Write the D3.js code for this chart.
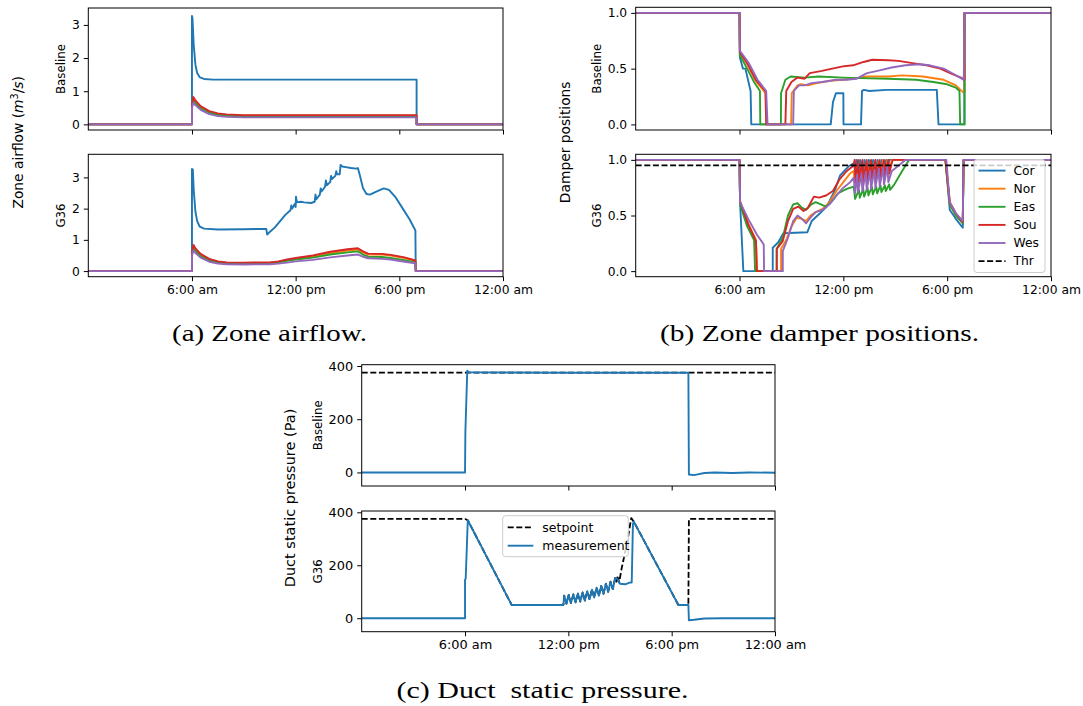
<!DOCTYPE html>
<html>
<head>
<meta charset="utf-8">
<script src="https://cdn.jsdelivr.net/npm/d3@7"></script>
<style>
  body { margin: 0; background: #fff; }
</style>
</head>
<body>
<div id="fig"></div>
<script>
// ---- data (hours of day, value) ----
var hourTicks = [6, 12, 18, 24];
var hourLabels = ["6:00 am", "12:00 pm", "6:00 pm", "12:00 am"];
var zoneNames = ["Cor", "Nor", "Eas", "Sou", "Wes"];
var zoneColors = ["#1f77b4", "#ff7f0e", "#2ca02c", "#d62728", "#9467bd"];

// (a) zone airflow, baseline
var flowBaseCor = [[0,0],[6.0,0],[6.0,3.27],[6.03,3.2],[6.1,2.4],[6.2,1.8],[6.3,1.55],[6.45,1.42],[6.7,1.37],[7.2,1.35],[19.0,1.35],[19.0,0],[24,0]];
var flowBaseNor = [[0,0],[6.0,0],[6.0,0.55],[6.08,0.78],[6.2,0.68],[6.5,0.52],[7,0.38],[7.5,0.31],[8,0.28],[9,0.265],[19.0,0.265],[19.0,0],[24,0]];
var flowBaseEas = [[0,0],[6.0,0],[6.0,0.52],[6.08,0.72],[6.2,0.63],[6.5,0.48],[7,0.35],[7.5,0.29],[8,0.26],[9,0.245],[19.0,0.245],[19.0,0],[24,0]];
var flowBaseSou = [[0,0],[6.0,0],[6.0,0.57],[6.08,0.83],[6.2,0.72],[6.5,0.55],[7,0.4],[7.5,0.33],[8,0.3],[9,0.28],[19.0,0.28],[19.0,0],[24,0]];
var flowBaseWes = [[0,0],[6.0,0],[6.0,0.5],[6.08,0.65],[6.2,0.58],[6.5,0.44],[7,0.31],[7.5,0.25],[8,0.225],[9,0.21],[19.0,0.21],[19.0,0],[24,0]];

// (a) zone airflow, G36
var flowG36Cor = [[0,0],[6.0,0],[6.0,3.27],[6.05,3.25],[6.1,2.6],[6.2,1.9],[6.3,1.6],[6.45,1.42],[6.7,1.36],[7.5,1.33],[9.0,1.34],[10.0,1.35],[10.3,1.35],[10.35,1.17],[10.5,1.25],[10.8,1.4],[11.1,1.6],[11.4,1.8],[11.7,1.95],[11.75,2.1],[11.8,2.0],[11.9,2.1],[11.95,2.15],[12.0,2.05],[12.02,2.38],[12.07,2.2],[12.3,2.22],[12.5,2.2],[12.9,2.18],[13.1,2.22],[13.15,2.45],[13.2,2.3],[13.4,2.45],[13.45,2.65],[13.5,2.55],[13.7,2.7],[13.75,2.9],[13.8,2.75],[14.0,2.85],[14.05,3.05],[14.1,2.95],[14.3,3.05],[14.35,3.2],[14.4,3.1],[14.55,3.1],[14.6,3.4],[14.7,3.35],[14.9,3.33],[15.2,3.3],[15.5,3.28],[15.6,3.3],[15.7,3.1],[15.9,2.65],[16.1,2.47],[16.3,2.45],[16.7,2.55],[17.1,2.65],[17.4,2.6],[17.8,2.35],[18.2,2.0],[18.6,1.65],[18.93,1.3],[18.95,0],[24,0]];
var flowG36Nor = [[0,0],[6.0,0],[6.0,0.55],[6.08,0.8],[6.2,0.7],[6.5,0.52],[7,0.37],[7.5,0.3],[8,0.27],[9,0.26],[10.5,0.27],[11,0.3],[11.5,0.35],[12,0.4],[12.5,0.44],[13,0.47],[13.5,0.52],[14,0.58],[14.5,0.62],[15,0.66],[15.6,0.69],[15.9,0.6],[16.2,0.53],[17.0,0.53],[17.5,0.5],[18.3,0.42],[18.93,0.33],[18.95,0],[24,0]];
var flowG36Eas = [[0,0],[6.0,0],[6.0,0.52],[6.08,0.73],[6.2,0.64],[6.5,0.48],[7,0.34],[7.5,0.28],[8,0.25],[9,0.24],[10.5,0.25],[11,0.28],[11.5,0.33],[12,0.37],[13,0.43],[14,0.53],[15,0.6],[15.6,0.63],[15.9,0.53],[16.2,0.46],[17,0.45],[17.5,0.42],[18.3,0.35],[18.93,0.28],[18.95,0],[24,0]];
var flowG36Sou = [[0,0],[6.0,0],[6.0,0.57],[6.08,0.84],[6.2,0.73],[6.5,0.55],[7,0.39],[7.5,0.31],[8,0.28],[9,0.27],[10.5,0.28],[11,0.31],[11.5,0.37],[12,0.42],[12.5,0.46],[13,0.5],[14,0.62],[15,0.7],[15.6,0.73],[15.9,0.63],[16.2,0.56],[17,0.55],[17.5,0.52],[18.3,0.44],[18.93,0.34],[18.95,0],[24,0]];
var flowG36Wes = [[0,0],[6.0,0],[6.0,0.5],[6.08,0.66],[6.2,0.58],[6.5,0.43],[7,0.3],[7.5,0.24],[8,0.22],[9,0.21],[10.5,0.22],[11,0.24],[11.5,0.27],[12,0.31],[13,0.36],[14,0.44],[15,0.5],[15.6,0.53],[15.9,0.46],[16.2,0.41],[17,0.39],[17.5,0.37],[18.3,0.3],[18.93,0.25],[18.95,0],[24,0]];

// (b) damper positions, baseline
var dampBaseCor = [[0,1],[6.0,1],[6.02,0.6],[6.2,0.5],[6.34,0.5],[6.64,0.3],[6.68,0],[11.27,0],[11.4,0.2],[11.57,0.28],[12.0,0.28],[12.01,0],[13.02,0],[13.08,0.3],[13.2,0.31],[13.5,0.3],[14.5,0.31],[17.4,0.31],[17.5,0],[19.0,0],[19.0,1],[24,1]];
var dampBaseNor = [[0,1],[6.0,1],[6.02,0.64],[6.44,0.54],[6.94,0.39],[7.5,0.28],[7.54,0],[8.98,0],[9.02,0.28],[9.35,0.35],[9.55,0.36],[9.96,0.35],[10.46,0.37],[11.27,0.39],[11.97,0.4],[12.57,0.41],[13.37,0.43],[14.59,0.43],[15.39,0.44],[16.6,0.43],[17.8,0.4],[18.5,0.35],[18.91,0.29],[19.0,0.29],[19.0,1],[24,1]];
var dampBaseEas = [[0,1],[6.0,1],[6.02,0.62],[6.44,0.5],[6.84,0.38],[7.18,0.3],[7.2,0],[8.39,0],[8.4,0.28],[8.65,0.4],[8.95,0.43],[9.76,0.42],[10.57,0.43],[11.97,0.42],[12.98,0.415],[14.59,0.41],[16.2,0.4],[17.2,0.38],[18.0,0.36],[18.5,0.33],[18.71,0.3],[18.75,0],[19.0,0],[19.0,1],[24,1]];
var dampBaseSou = [[0,1],[6.0,1],[6.02,0.65],[6.44,0.55],[6.94,0.4],[7.5,0.3],[7.55,0],[8.65,0],[8.7,0.3],[9.0,0.38],[9.35,0.42],[9.76,0.41],[10.06,0.46],[10.76,0.48],[11.36,0.5],[11.97,0.52],[12.57,0.53],[13.17,0.56],[13.67,0.58],[14.59,0.575],[15.19,0.57],[15.99,0.55],[16.8,0.53],[17.6,0.5],[18.3,0.45],[18.8,0.42],[19.0,0.4],[19.0,1],[24,1]];
var dampBaseWes = [[0,1],[6.0,1],[6.02,0.66],[6.54,0.55],[7.04,0.4],[7.54,0.3],[7.62,0],[9.1,0],[9.14,0.3],[9.44,0.35],[9.76,0.35],[10.16,0.37],[10.76,0.38],[11.57,0.4],[12.17,0.4],[12.77,0.41],[13.37,0.46],[13.97,0.48],[14.79,0.51],[15.6,0.53],[16.4,0.54],[17.0,0.53],[17.8,0.5],[18.4,0.45],[18.96,0.4],[19.0,1],[24,1]];

// (b) damper positions, G36
var dampG36Cor = [[0,1],[6.0,1],[6.03,0.62],[6.22,0],[7.92,0],[7.92,0.21],[8.24,0.26],[8.53,0.34],[9.92,0.35],[10.17,0.45],[10.65,0.52],[11.04,0.58],[11.52,0.73],[11.81,0.86],[12.29,0.94],[12.6,0.97],[12.68,0.9],[12.75,1.0],[12.9,0.88],[12.97,1.0],[13.15,0.88],[13.22,1.0],[13.4,0.89],[13.47,1.0],[13.65,0.9],[13.72,1.0],[13.9,0.9],[13.97,1.0],[14.15,0.91],[14.22,1.0],[14.4,0.92],[14.47,1.0],[14.6,0.95],[14.65,1.0],[17.9,1.0],[18.15,0.55],[18.5,0.47],[18.9,0.39],[18.95,1.0],[24,1.0]];
var dampG36Nor = [[0,1],[6.0,1],[6.03,0.62],[6.5,0.43],[6.95,0.28],[7.02,0],[8.4,0],[8.4,0.2],[8.7,0.28],[9.0,0.4],[9.3,0.48],[9.6,0.47],[9.85,0.45],[10.1,0.5],[10.4,0.53],[10.8,0.56],[11.2,0.62],[11.6,0.72],[12.0,0.8],[12.4,0.88],[12.6,0.9],[12.68,0.75],[12.8,0.95],[12.85,0.76],[13.05,0.96],[13.1,0.77],[13.3,0.97],[13.35,0.78],[13.55,0.98],[13.6,0.79],[13.8,0.98],[13.85,0.8],[14.05,0.99],[14.1,0.81],[14.3,1.0],[14.35,0.82],[14.55,1.0],[14.6,0.85],[14.8,1.0],[17.9,1.0],[18.15,0.6],[18.5,0.5],[18.9,0.44],[18.95,1.0],[24,1.0]];
var dampG36Eas = [[0,1],[6.0,1],[6.03,0.6],[6.42,0.41],[6.84,0.28],[6.9,0],[8.15,0],[8.15,0.2],[8.5,0.3],[8.8,0.5],[9.1,0.6],[9.35,0.61],[9.6,0.57],[9.85,0.55],[10.15,0.6],[10.4,0.62],[10.7,0.6],[11.0,0.58],[11.3,0.62],[11.7,0.7],[12.2,0.74],[12.6,0.76],[12.68,0.65],[12.9,0.73],[12.95,0.66],[13.15,0.74],[13.2,0.67],[13.4,0.75],[13.45,0.68],[13.65,0.76],[13.7,0.69],[13.9,0.76],[13.95,0.7],[14.15,0.77],[14.2,0.71],[14.4,0.77],[14.45,0.72],[14.65,0.78],[14.7,0.73],[14.95,0.78],[15.4,0.9],[15.8,1.0],[17.9,1.0],[18.15,0.6],[18.5,0.5],[18.9,0.43],[18.95,1.0],[24,1.0]];
var dampG36Sou = [[0,1],[6.0,1],[6.03,0.63],[6.5,0.42],[6.95,0.27],[7.0,0],[8.15,0],[8.15,0.2],[8.5,0.27],[8.8,0.45],[9.1,0.56],[9.4,0.58],[9.7,0.54],[9.95,0.57],[10.3,0.67],[10.6,0.66],[11.0,0.68],[11.4,0.72],[11.8,0.83],[12.2,0.9],[12.6,0.95],[12.65,1.0],[12.7,0.8],[12.85,1.0],[12.9,0.8],[13.1,1.0],[13.15,0.81],[13.35,1.0],[13.4,0.82],[13.6,1.0],[13.65,0.83],[13.85,1.0],[13.9,0.84],[14.1,1.0],[14.15,0.85],[14.35,1.0],[14.4,0.86],[14.6,1.0],[14.65,0.88],[14.85,1.0],[17.9,1.0],[18.15,0.62],[18.5,0.52],[18.9,0.44],[18.95,1.0],[24,1.0]];
var dampG36Wes = [[0,1],[6.0,1],[6.03,0.62],[6.5,0.47],[7.0,0.33],[7.4,0.24],[7.42,0],[8.5,0],[8.5,0.18],[8.8,0.3],[9.1,0.45],[9.35,0.5],[9.6,0.47],[9.85,0.43],[10.1,0.48],[10.4,0.53],[10.8,0.55],[11.2,0.6],[11.6,0.68],[12.0,0.75],[12.4,0.8],[12.6,0.84],[12.68,0.7],[12.8,0.87],[12.85,0.71],[13.05,0.88],[13.1,0.72],[13.3,0.89],[13.35,0.73],[13.55,0.9],[13.6,0.74],[13.8,0.91],[13.85,0.75],[14.05,0.92],[14.1,0.76],[14.3,0.93],[14.35,0.78],[14.55,0.94],[14.6,0.8],[14.8,0.9],[15.2,0.95],[15.6,1.0],[17.95,1.0],[18.15,0.62],[18.5,0.52],[18.9,0.45],[18.95,1.0],[24,1.0]];
var dampThr = [[0,0.95],[24,0.95]];

// (c) duct static pressure (Pa)
var presBaseSet = [[0,375],[24,375]];
var presBaseMeas = [[0,0],[6.0,0],[6.02,150],[6.13,382],[6.25,376],[12,375],[18.97,375],[19.0,-8],[19.3,-10],[19.9,-2],[20.5,0],[21.5,-2],[22.5,0],[24,-1]];
var presG36Meas = [[0,0],[6.0,0],[6.0,145],[6.04,150],[6.16,370],[8.71,50],[11.71,50],[11.76,85],[11.89,55],[12.02,88],[12.15,57],[12.29,90],[12.42,60],[12.56,93],[12.69,63],[12.83,97],[12.96,67],[13.1,102],[13.23,72],[13.37,108],[13.5,78],[13.64,115],[13.77,85],[13.91,122],[14.04,92],[14.18,130],[14.31,100],[14.45,138],[14.58,110],[14.72,152],[14.85,148],[15.0,130],[15.3,128],[15.6,135],[15.68,135],[15.75,355],[15.8,365],[18.39,50],[18.97,50],[19.0,-8],[19.3,-6],[19.9,-1],[21,0],[24,0]];
// setpoint tracks the measurement during the reset ramp
var presG36Set = [[0,375],[6.0,375],[6.16,370]]
  .concat(presG36Meas.filter(function(d) { return d[0] > 6.16 && d[0] <= 14.72; }))
  .concat([[14.8,138],[14.87,160],[14.95,135],[15.1,190],[15.25,235],[15.45,300],[15.65,378],[15.8,365],[18.39,50],[18.97,50],[19.0,375],[24,375]]);

// ---- drawing ----
var svg = d3.select("#fig").append("svg")
  .attr("width", 1083)
  .attr("height", 706)
  .style("font-family", "'DejaVu Sans', sans-serif");

var clipCount = 0;

function drawPanel(cfg) {
  var g = svg.append("g");
  var x = d3.scaleLinear().domain([0, 24]).range([cfg.left, cfg.right]);
  var y = d3.scaleLinear().domain(cfg.yDomain).range([cfg.bottom, cfg.top]);

  clipCount++;
  svg.append("clipPath").attr("id", "clip" + clipCount)
    .append("rect")
    .attr("x", cfg.left).attr("y", cfg.top)
    .attr("width", cfg.right - cfg.left).attr("height", cfg.bottom - cfg.top);

  var line = d3.line().x(function(d) { return x(d[0]); }).y(function(d) { return y(d[1]); });
  var lines = g.append("g").attr("clip-path", "url(#clip" + clipCount + ")");
  cfg.series.forEach(function(s) {
    lines.append("path")
      .datum(s.data)
      .attr("d", line)
      .attr("fill", "none")
      .attr("stroke", s.color)
      .attr("stroke-width", s.dash ? 1.8 : 1.9)
      .attr("stroke-dasharray", s.dash ? "6,2.6" : null)
      .attr("stroke-linejoin", "round");
  });

  var yAxis = d3.axisLeft(y).tickValues(cfg.yTicks).tickFormat(cfg.yFmt)
    .tickSize(4.5).tickPadding(4).tickSizeOuter(0);
  var ya = g.append("g").attr("transform", "translate(" + cfg.left + ",0)").call(yAxis);

  var xAxis = d3.axisBottom(x).tickValues(hourTicks)
    .tickFormat(function(d, i) { return cfg.showX ? hourLabels[i] : ""; })
    .tickSize(4.5).tickPadding(4).tickSizeOuter(0);
  var xa = g.append("g").attr("transform", "translate(0," + cfg.bottom + ")").call(xAxis);

  [ya, xa].forEach(function(a) {
    a.select(".domain").remove();
    a.attr("font-size", cfg.fs).attr("font-family", "'DejaVu Sans', sans-serif");
    a.selectAll("line").attr("stroke", "#000").attr("stroke-width", 1);
    a.selectAll("text").attr("fill", "#000");
  });

  g.append("rect")
    .attr("x", cfg.left).attr("y", cfg.top)
    .attr("width", cfg.right - cfg.left).attr("height", cfg.bottom - cfg.top)
    .attr("fill", "none").attr("stroke", "#000").attr("stroke-width", 1);

  g.append("text")
    .attr("transform", "translate(" + cfg.labelX + "," + (cfg.top + cfg.bottom) / 2 + ") rotate(-90)")
    .attr("text-anchor", "middle")
    .attr("dy", "0.35em")
    .attr("font-size", 11.8)
    .text(cfg.label);
}

function drawLegend(box, entries, fs) {
  var g = svg.append("g");
  g.append("rect")
    .attr("x", box.x).attr("y", box.y).attr("width", box.w).attr("height", box.h)
    .attr("rx", 3).attr("fill", "#fff").attr("fill-opacity", 0.8)
    .attr("stroke", "#cccccc").attr("stroke-width", 1);
  entries.forEach(function(e, i) {
    var yy = box.firstY + i * box.step;
    g.append("line")
      .attr("x1", box.lineX0).attr("x2", box.lineX1).attr("y1", yy).attr("y2", yy)
      .attr("stroke", e.color).attr("stroke-width", e.dash ? 1.8 : 1.9)
      .attr("stroke-dasharray", e.dash ? "6,2.6" : null);
    g.append("text")
      .attr("x", box.textX).attr("y", yy).attr("dy", "0.35em")
      .attr("font-size", fs)
      .text(e.name);
  });
}

function bigLabel(x, y, parts, fs) {
  var t = svg.append("text")
    .attr("transform", "translate(" + x + "," + y + ") rotate(-90)")
    .attr("text-anchor", "middle")
    .attr("dy", "0.35em")
    .attr("font-size", fs);
  parts.forEach(function(p) {
    var s = t.append("tspan").text(p.t);
    if (p.it) s.attr("font-style", "italic");
    if (p.sup) s.attr("baseline-shift", "super").attr("font-size", fs * 0.7);
  });
}

function caption(cx, y, txt, len) {
  svg.append("text")
    .attr("x", cx).attr("y", y)
    .attr("text-anchor", "middle")
    .attr("font-family", "'Liberation Serif', serif")
    .attr("font-size", 23.5)
    .attr("textLength", len)
    .attr("lengthAdjust", "spacingAndGlyphs")
    .attr("xml:space", "preserve")
    .text(txt);
}

function zoneSeries(arrs) {
  return arrs.map(function(a, i) { return { data: a, color: zoneColors[i] }; });
}

var fmtInt = d3.format("d");
var fmt1 = d3.format(".1f");

// (a)
drawPanel({ left: 88.3, right: 503, top: 8, bottom: 130, yDomain: [-0.17, 3.51], yTicks: [0, 1, 2, 3], yFmt: fmtInt,
  fs: 12.3, showX: false, label: "Baseline", labelX: 60.6,
  series: zoneSeries([flowBaseCor, flowBaseNor, flowBaseEas, flowBaseSou, flowBaseWes]) });
drawPanel({ left: 88.3, right: 503, top: 154.3, bottom: 276.7, yDomain: [-0.18, 3.74], yTicks: [0, 1, 2, 3], yFmt: fmtInt,
  fs: 12.3, showX: true, label: "G36", labelX: 60.6,
  series: zoneSeries([flowG36Cor, flowG36Nor, flowG36Eas, flowG36Sou, flowG36Wes]) });
bigLabel(18, 142.3, [{ t: "Zone airflow (" }, { t: "m", it: true }, { t: "3", sup: true }, { t: "/" }, { t: "s", it: true }, { t: ")" }], 13.8);

// (b)
drawPanel({ left: 635.7, right: 1051, top: 7.3, bottom: 130, yDomain: [-0.05, 1.05], yTicks: [0, 0.5, 1], yFmt: fmt1,
  fs: 12.3, showX: false, label: "Baseline", labelX: 597,
  series: zoneSeries([dampBaseCor, dampBaseNor, dampBaseEas, dampBaseSou, dampBaseWes]) });
drawPanel({ left: 635.7, right: 1051, top: 154.3, bottom: 276.7, yDomain: [-0.05, 1.05], yTicks: [0, 0.5, 1], yFmt: fmt1,
  fs: 12.3, showX: true, label: "G36", labelX: 597,
  series: zoneSeries([dampG36Cor, dampG36Nor, dampG36Eas, dampG36Sou, dampG36Wes])
    .concat([{ data: dampThr, color: "#000", dash: true }]) });
bigLabel(565.5, 142.3, [{ t: "Damper positions" }], 13.8);
drawLegend({ x: 974, y: 159.5, w: 71, h: 113, firstY: 170.6, step: 18.1, lineX0: 978.5, lineX1: 1005.5, textX: 1013.5 },
  zoneNames.map(function(n, i) { return { name: n, color: zoneColors[i] }; })
    .concat([{ name: "Thr", color: "#000", dash: true }]), 12.3);

// (c)
drawPanel({ left: 361.7, right: 775, top: 364.7, bottom: 486, yDomain: [-51, 405], yTicks: [0, 200, 400], yFmt: fmtInt,
  fs: 12.9, showX: false, label: "Baseline", labelX: 318.3,
  series: [{ data: presBaseSet, color: "#000", dash: true }, { data: presBaseMeas, color: zoneColors[0] }] });
drawPanel({ left: 361.7, right: 775, top: 511, bottom: 631.7, yDomain: [-51, 405], yTicks: [0, 200, 400], yFmt: fmtInt,
  fs: 12.9, showX: true, label: "G36", labelX: 318.3,
  series: [{ data: presG36Set, color: "#000", dash: true }, { data: presG36Meas, color: zoneColors[0] }] });
bigLabel(290, 498, [{ t: "Duct static pressure (Pa)" }], 14.5);
drawLegend({ x: 502.7, y: 515.7, w: 125.6, h: 41, firstY: 527.3, step: 18.4, lineX0: 507.7, lineX1: 533.3, textX: 542.3 },
  [{ name: "setpoint", color: "#000", dash: true }, { name: "measurement", color: zoneColors[0] }], 12.5);

// captions
caption(269.5, 341, "(a) Zone airflow.", 195);
caption(819.5, 341, "(b) Zone damper positions.", 319);
caption(542.5, 698, "(c) Duct  static pressure.", 292);
</script>
</body>
</html>
